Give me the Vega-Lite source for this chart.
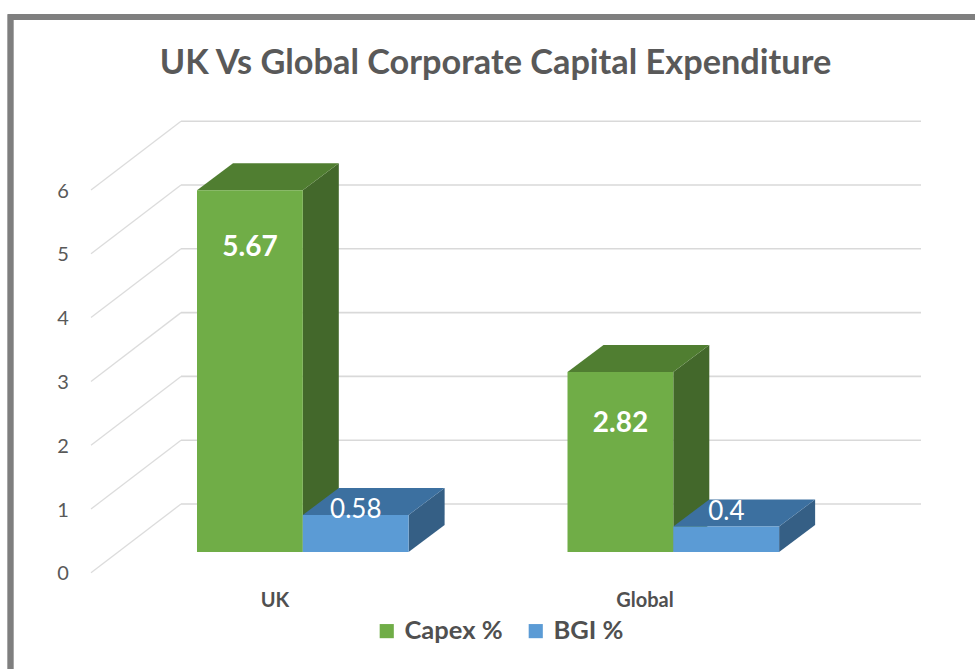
{
  "$schema": "https://vega.github.io/schema/vega-lite/v6.json",
  "width": 975,
  "height": 669,
  "padding": 0,
  "autosize": {"type": "none"},
  "background": "#ffffff",
  "view": {"stroke": null},
  "title": {
    "text": "UK Vs Global Corporate Capital Expenditure",
    "anchor": "middle",
    "frame": "group",
    "orient": "top",
    "offset": 0,
    "dx": 8,
    "dy": 81,
    "font": "Lato",
    "fontSize": 34.3,
    "fontWeight": "bold",
    "color": "#595959"
  },
  "data": {
    "values": [
      {"group": "UK", "series": "Capex %", "value": 5.67},
      {"group": "UK", "series": "BGI %", "value": 0.58},
      {"group": "Global", "series": "Capex %", "value": 2.82},
      {"group": "Global", "series": "BGI %", "value": 0.4}
    ]
  },
  "transform": [
    {"calculate": "197 + (datum.group === 'UK' ? 0 : 370.5) + (datum.series === 'Capex %' ? 0 : 105.8)", "as": "left"},
    {"calculate": "datum.left + 105.8", "as": "right"},
    {"calculate": "datum.left + 53", "as": "middle"},
    {"calculate": "datum.value + {'UK|Capex %': -0.9, 'UK|BGI %': 0.08, 'Global|Capex %': -0.82, 'Global|BGI %': 0.23}[datum.group + '|' + datum.series]", "as": "labelAt"}
  ],
  "layer": [
    {
      "description": "Chart frame, left edge",
      "mark": {"type": "rule", "color": "#7f7f7f", "strokeWidth": 5.5},
      "encoding": {
        "x": {"datum": 10.5, "type": "quantitative", "axis": null, "scale": {"domain": [0, 975], "nice": false, "zero": false}},
        "y": {"datum": 8.43, "type": "quantitative", "axis": null, "scale": {"domain": [-1.834, 8.652], "nice": false, "zero": false}},
        "y2": {"datum": -1.834}
      }
    },
    {
      "description": "Chart frame, top edge",
      "mark": {"type": "rule", "color": "#7f7f7f", "strokeWidth": 5.5},
      "encoding": {
        "x": {"datum": 8, "type": "quantitative", "axis": null, "scale": {"domain": [0, 975], "nice": false, "zero": false}},
        "x2": {"datum": 975},
        "y": {"datum": 8.386, "type": "quantitative", "axis": null, "scale": {"domain": [-1.834, 8.652], "nice": false, "zero": false}}
      }
    },
    {
      "description": "Back wall gridlines",
      "data": {"values": [{"tick": 0}, {"tick": 1}, {"tick": 2}, {"tick": 3}, {"tick": 4}, {"tick": 5}, {"tick": 6}]},
      "transform": [{"calculate": "datum.tick + 0.752", "as": "wall"}],
      "mark": {"type": "rule", "color": "#d9d9d9", "strokeWidth": 1.6},
      "encoding": {
        "x": {"datum": 181, "type": "quantitative", "axis": null, "scale": {"domain": [0, 975], "nice": false, "zero": false}},
        "x2": {"datum": 921},
        "y": {"field": "wall", "type": "quantitative", "axis": null, "scale": {"domain": [-1.834, 8.652], "nice": false, "zero": false}}
      }
    },
    {
      "description": "Side wall gridlines running toward the axis",
      "data": {"values": [{"tick": 0}, {"tick": 1}, {"tick": 2}, {"tick": 3}, {"tick": 4}, {"tick": 5}, {"tick": 6}]},
      "transform": [
        {"calculate": "datum.tick + 0.752", "as": "wall"},
        {"calculate": "datum.tick - 0.326", "as": "front"}
      ],
      "mark": {"type": "rule", "color": "#dcdcdc", "strokeWidth": 1.3},
      "encoding": {
        "x": {"datum": 91, "type": "quantitative", "axis": null, "scale": {"domain": [0, 975], "nice": false, "zero": false}},
        "x2": {"datum": 181},
        "y": {"field": "front", "type": "quantitative", "axis": null, "scale": {"domain": [-1.834, 8.652], "nice": false, "zero": false}},
        "y2": {"field": "wall"}
      }
    },
    {
      "description": "Value axis labels",
      "data": {"values": [{"tick": 0}, {"tick": 1}, {"tick": 2}, {"tick": 3}, {"tick": 4}, {"tick": 5}, {"tick": 6}]},
      "transform": [{"calculate": "datum.tick - 0.35", "as": "labelAt"}],
      "mark": {"type": "text", "font": "Lato", "fontSize": 20, "color": "#595959", "baseline": "middle", "align": "center"},
      "encoding": {
        "x": {"datum": 63, "type": "quantitative", "axis": null, "scale": {"domain": [0, 975], "nice": false, "zero": false}},
        "y": {"field": "labelAt", "type": "quantitative", "axis": null, "scale": {"domain": [-1.834, 8.652], "nice": false, "zero": false}},
        "text": {"field": "tick", "type": "quantitative"}
      }
    },
    {
      "description": "Capex side faces",
      "transform": [
        {"filter": "datum.series === 'Capex %'"},
        {"calculate": "[datum.right, datum.right + 36]", "as": "px"},
        {"calculate": "[0, 0.423]", "as": "low"},
        {"calculate": "[datum.value, datum.value + 0.423]", "as": "high"},
        {"flatten": ["px", "low", "high"]}
      ],
      "mark": {"type": "area", "color": "#43682b", "opacity": 1},
      "encoding": {
        "x": {"field": "px", "type": "quantitative", "axis": null, "scale": {"domain": [0, 975], "nice": false, "zero": false}},
        "y": {"field": "high", "type": "quantitative", "axis": null, "stack": null, "scale": {"domain": [-1.834, 8.652], "nice": false, "zero": false}},
        "y2": {"field": "low"},
        "detail": {"field": "group"}
      }
    },
    {
      "description": "Capex top faces",
      "transform": [
        {"filter": "datum.series === 'Capex %'"},
        {"calculate": "[datum.left, datum.left + 36, datum.right, datum.right + 36]", "as": "px"},
        {"calculate": "[datum.value, datum.value, datum.value, datum.value + 0.423]", "as": "low"},
        {"calculate": "[datum.value, datum.value + 0.423, datum.value + 0.423, datum.value + 0.423]", "as": "high"},
        {"flatten": ["px", "low", "high"]}
      ],
      "mark": {"type": "area", "color": "#507e31", "opacity": 1},
      "encoding": {
        "x": {"field": "px", "type": "quantitative", "axis": null, "scale": {"domain": [0, 975], "nice": false, "zero": false}},
        "y": {"field": "high", "type": "quantitative", "axis": null, "stack": null, "scale": {"domain": [-1.834, 8.652], "nice": false, "zero": false}},
        "y2": {"field": "low"},
        "detail": {"field": "group"}
      }
    },
    {
      "description": "BGI side faces",
      "transform": [
        {"filter": "datum.series === 'BGI %'"},
        {"calculate": "[datum.right, datum.right + 36]", "as": "px"},
        {"calculate": "[0, 0.423]", "as": "low"},
        {"calculate": "[datum.value, datum.value + 0.423]", "as": "high"},
        {"flatten": ["px", "low", "high"]}
      ],
      "mark": {"type": "area", "color": "#355f85", "opacity": 1},
      "encoding": {
        "x": {"field": "px", "type": "quantitative", "axis": null, "scale": {"domain": [0, 975], "nice": false, "zero": false}},
        "y": {"field": "high", "type": "quantitative", "axis": null, "stack": null, "scale": {"domain": [-1.834, 8.652], "nice": false, "zero": false}},
        "y2": {"field": "low"},
        "detail": {"field": "group"}
      }
    },
    {
      "description": "BGI top faces",
      "transform": [
        {"filter": "datum.series === 'BGI %'"},
        {"calculate": "[datum.left, datum.left + 36, datum.right, datum.right + 36]", "as": "px"},
        {"calculate": "[datum.value, datum.value, datum.value, datum.value + 0.423]", "as": "low"},
        {"calculate": "[datum.value, datum.value + 0.423, datum.value + 0.423, datum.value + 0.423]", "as": "high"},
        {"flatten": ["px", "low", "high"]}
      ],
      "mark": {"type": "area", "color": "#3c70a0", "opacity": 1},
      "encoding": {
        "x": {"field": "px", "type": "quantitative", "axis": null, "scale": {"domain": [0, 975], "nice": false, "zero": false}},
        "y": {"field": "high", "type": "quantitative", "axis": null, "stack": null, "scale": {"domain": [-1.834, 8.652], "nice": false, "zero": false}},
        "y2": {"field": "low"},
        "detail": {"field": "group"}
      }
    },
    {
      "description": "Front faces of the bars",
      "mark": {"type": "bar", "opacity": 1},
      "encoding": {
        "x": {"field": "left", "type": "quantitative", "axis": null, "scale": {"domain": [0, 975], "nice": false, "zero": false}},
        "x2": {"field": "right"},
        "y": {"field": "value", "type": "quantitative", "axis": null, "stack": null, "scale": {"domain": [-1.834, 8.652], "nice": false, "zero": false}},
        "y2": {"datum": 0},
        "color": {
          "field": "series",
          "type": "nominal",
          "scale": {"domain": ["Capex %", "BGI %"], "range": ["#70ad47", "#5b9bd5"]},
          "legend": {
            "title": null,
            "orient": "none",
            "legendX": 374,
            "legendY": 618,
            "direction": "horizontal",
            "columns": 2,
            "columnPadding": 20,
            "symbolType": "square",
            "symbolSize": 200,
            "symbolOpacity": 1,
            "labelFont": "Lato",
            "labelFontSize": 25.5,
            "labelFontWeight": "bold",
            "labelColor": "#505050",
            "labelOffset": 5
          }
        }
      }
    },
    {
      "description": "Capex value labels",
      "transform": [{"filter": "datum.series === 'Capex %'"}],
      "mark": {"type": "text", "font": "Lato", "fontSize": 28, "fontWeight": "bold", "baseline": "middle", "align": "center", "color": "#ffffff"},
      "encoding": {
        "x": {"field": "middle", "type": "quantitative", "axis": null, "scale": {"domain": [0, 975], "nice": false, "zero": false}},
        "y": {"field": "labelAt", "type": "quantitative", "axis": null, "scale": {"domain": [-1.834, 8.652], "nice": false, "zero": false}},
        "text": {"field": "value", "type": "quantitative"}
      }
    },
    {
      "description": "BGI value labels",
      "transform": [{"filter": "datum.series === 'BGI %'"}],
      "mark": {"type": "text", "font": "Lato", "fontSize": 26, "baseline": "middle", "align": "center", "color": "#ffffff"},
      "encoding": {
        "x": {"field": "middle", "type": "quantitative", "axis": null, "scale": {"domain": [0, 975], "nice": false, "zero": false}},
        "y": {"field": "labelAt", "type": "quantitative", "axis": null, "scale": {"domain": [-1.834, 8.652], "nice": false, "zero": false}},
        "text": {"field": "value", "type": "quantitative"}
      }
    },
    {
      "description": "Category labels",
      "data": {"values": [{"group": "UK", "center": 275}, {"group": "Global", "center": 645}]},
      "transform": [{"calculate": "-0.77", "as": "labelAt"}],
      "mark": {"type": "text", "font": "Lato", "fontSize": 20, "fontWeight": "bold", "color": "#505050", "baseline": "middle", "align": "center"},
      "encoding": {
        "x": {"field": "center", "type": "quantitative", "axis": null, "scale": {"domain": [0, 975], "nice": false, "zero": false}},
        "y": {"field": "labelAt", "type": "quantitative", "axis": null, "scale": {"domain": [-1.834, 8.652], "nice": false, "zero": false}},
        "text": {"field": "group", "type": "nominal"}
      }
    }
  ]
}
